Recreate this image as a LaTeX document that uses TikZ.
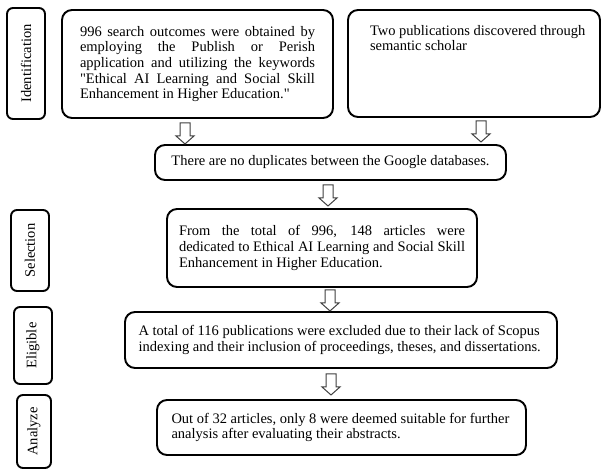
\documentclass[tikz,border=0pt]{standalone}
\usepackage{fontspec}
\setmainfont{Liberation Serif}
\usetikzlibrary{calc}
\begin{document}
\begin{tikzpicture}[x=1pt,y=-1pt,
  box/.style={draw, line width=1.9pt, rounded corners=10pt, inner sep=0pt,
    font=\fontsize{14.5}{15.7}\selectfont},
  lab/.style={draw, line width=1.9pt, rounded corners=6pt, inner sep=0pt,
    font=\fontsize{14.5}{15.7}\selectfont},
  arrline/.style={draw=black!75, line width=1pt, fill=white, line join=miter},
  downarr/.pic={\draw[arrline] (-5,0) -- (5,0) -- (5,13) -- (9,13) -- (0,21) -- (-9,13) -- (-5,13) -- cycle;}
]
\useasboundingbox (0,0) rectangle (603,471);
\fill[white] (0,0) rectangle (603,471);

% stage labels
\node[lab, minimum width=38pt, minimum height=111pt] (l1) at (26,63.5) {\rotatebox{90}{Identification}};
\node[lab, minimum width=38pt, minimum height=81pt] (l2) at (30,250.5) {\rotatebox{90}{Selection}};
\node[lab, minimum width=38pt, minimum height=77pt] (l3) at (33,345.5) {\rotatebox{90}{Eligible}};
\node[lab, minimum width=34pt, minimum height=73pt] (l4) at (34,431.5) {\rotatebox{90}{Analyze}};

% content boxes
\node[box, minimum width=271pt, minimum height=108pt] (b1) at (197.5,64)
  {\parbox{235pt}{996 search outcomes were obtained by\linebreak employing the Publish or Perish\linebreak application and utilizing the keywords\linebreak \textquotedbl Ethical AI Learning and Social Skill\linebreak Enhancement in Higher Education.\textquotedbl}};
\node[box, minimum width=252pt, minimum height=107pt] (b2) at (474,63.5)
  {\parbox[c][77pt][t]{236pt}{\raggedright\leftskip=14pt Two publications discovered through\\ semantic scholar}};
\node[box, minimum width=351pt, minimum height=35pt] (b3) at (330.5,162.5)
  {There are no duplicates between the Google databases.};
\node[box, minimum width=310pt, minimum height=78pt] (b4) at (322,248)
  {\parbox{286pt}{From the total of 996, 148 articles were\linebreak dedicated to Ethical AI Learning and Social Skill\linebreak Enhancement in Higher Education.}};
\node[box, minimum width=432pt, minimum height=56pt] (b5) at (341,340)
  {\parbox{405pt}{\raggedright A total of 116 publications were excluded due to their lack of Scopus\\ indexing and their inclusion of proceedings, theses, and dissertations.}};
\node[box, minimum width=369pt, minimum height=55pt] (b6) at (341.5,427.5)
  {\parbox{340pt}{\raggedright Out of 32 articles, only 8 were deemed suitable for further\\ analysis after evaluating their abstracts.}};

% block arrows
\pic at ($(b1.south)+(-12.5,4)$) {downarr};
\pic at ($(b2.south)+(7,3)$) {downarr};
\pic at ($(b3.south)+(-2.5,4)$) {downarr};
\pic at ($(b4.south)+(8,2)$) {downarr};
\pic at ($(b5.south)+(-10,5)$) {downarr};
\end{tikzpicture}
\end{document}
